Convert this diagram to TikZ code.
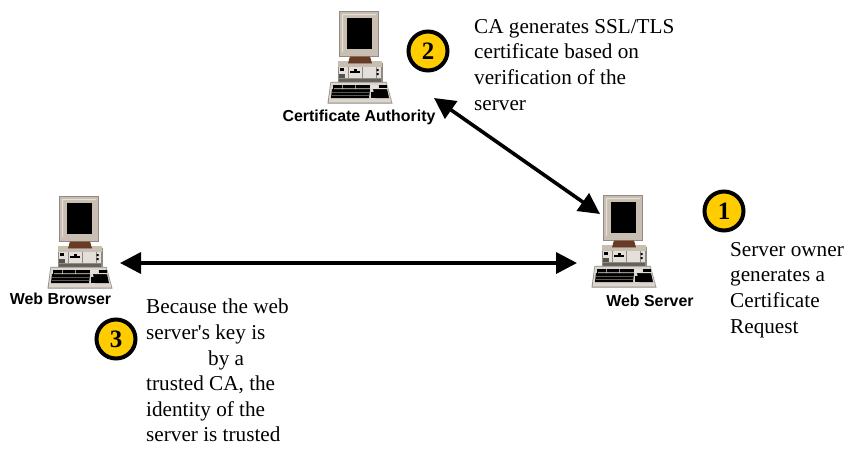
\documentclass[tikz,border=0pt]{standalone}
\usepackage{fontspec}
\setmainfont{Liberation Serif}
\newfontfamily\notefont{Liberation Serif}
\newfontfamily\labelfont{Liberation Sans}
\usetikzlibrary{arrows.meta}
\definecolor{beige}{HTML}{C9BEB2}
\definecolor{edgegray}{HTML}{8F8A84}
\definecolor{panel}{HTML}{E4DFD8}
\definecolor{brownneck}{HTML}{6B3A22}
\definecolor{gold}{HTML}{FFCC00}
\tikzset{
  x=1pt,y=-1pt,
  hitbox/.style={inner sep=0,outer sep=0,minimum width=64pt,minimum height=92pt,anchor=north west},
  caption/.style={font=\labelfont\bfseries\fontsize{15.9}{18}\selectfont,inner sep=0,text=black},
  note/.style={font=\notefont\fontsize{21.2}{25.6}\selectfont,align=left,anchor=north west,inner sep=0,text=black},
  badge/.style={circle,draw=black,line width=4pt,fill=gold,minimum size=39pt,inner sep=0,
     font=\bfseries\fontsize{25}{25}\selectfont,text=black},
  bothlink/.style={line width=3.6pt,{Triangle[length=21pt,width=21pt]}-{Triangle[length=21pt,width=21pt]},black},
  computer/.pic={
    % monitor
    \fill[edgegray] (-0.8,-0.8) rectangle (38.8,44.8);
    \fill[beige] (0,0) rectangle (38,44);
    \fill[panel] (2,2) rectangle (36,3) (2,2) rectangle (3,40);
    \fill[black] (7,6) rectangle (32,37);
    % neck
    \fill[brownneck] (10,44.5) -- (30,44.5) -- (32,51) -- (8,51) -- cycle;
    % case
    \fill[edgegray] (-2.5,51) -- (42.5,51) -- (42.5,71) -- (-2.5,71) -- cycle;
    \fill[beige] (-2,49) -- (8,49) -- (8,52) -- (32,52) -- (32,49) -- (42,49) -- (42,55) -- (-2,55) -- cycle;
    \fill[panel] (-1,55) rectangle (41,66);
    \fill[black] (0,56) rectangle (4,59);
    \fill[black] (10,59) rectangle (20,61);
    \fill[black] (14,57) rectangle (17,59);
    \draw[edgegray,line width=.6pt] (8,55) -- (8,66) (22,55) -- (22,66) (36,55) -- (36,66);
    \fill[black] (36.5,57) rectangle (38.5,59) (36.5,61) rectangle (38.5,63);
    \fill[edgegray!60!black] (-1,62) rectangle (5,66);
    \fill[edgegray!70!black] (-1,67) rectangle (41,70.5);
    % keyboard
    \fill[edgegray] (-9.5,69.8) -- (46.5,69.8) -- (52.5,91.5) -- (-12.5,91.5) -- cycle;
    \fill[panel!70!beige] (-9,70.5) -- (46,70.5) -- (51.5,90.5) -- (-11.5,90.5) -- cycle;
    \fill[black] (-7,73) -- (30,73) -- (30,77) -- (-7,77) -- cycle;
    \fill[black] (-8,77) -- (30,77) -- (29,86) -- (-9,86) -- cycle;
    \fill[black] (33,77) -- (47,77) -- (49,86) -- (35,86) -- cycle;
    \fill[black] (31,80) -- (36,80) -- (36,86) -- (31,86) -- cycle;
    \fill[panel] (-6,76.3) rectangle (48,77) (2,73) rectangle (2.7,76) (15,73) rectangle (15.7,76) (30,73) rectangle (38,76);
    \fill[black] (39,73) rectangle (47,75.5);
    \fill[edgegray] (-8,80) rectangle (29,80.5) (-8,83) rectangle (29,83.5);
  }
}
\begin{document}
\begin{tikzpicture}
\useasboundingbox (0,0) rectangle (855,453);
\fill[white] (0,0) rectangle (855,453);

\pic at (340,12) {computer};
\pic at (60,197) {computer};
\pic at (604,196) {computer};

\node[hitbox] (ca) at (329,12) {};
\node[hitbox] (browser) at (49,197) {};
\node[hitbox] (server) at (593,196) {};

\node[caption] (calabel) at (359,117) {Certificate Authority};
\node[caption] (browserlabel) at (60.5,298.5) {Web Browser};
\node[caption] (serverlabel) at (650,300.5) {Web Server};

\node[badge] (b2) at (428,51) {2};
\node[badge] (b1) at (724,211) {1};
\node[badge] (b3) at (116,339) {3};

\node[note] (n2) at (474,19) {CA generates SSL/TLS\\certificate based on\\verification of the\\server};
\node[note] (n1) at (730,242) {Server owner\\generates a\\Certificate\\Request};
\node[note] (n3) at (146,299) {Because the web\\server's key is\\\hspace*{62pt}by a\\trusted CA, the\\identity of the\\server is trusted};

\draw[bothlink] ([xshift=41pt,yshift=6pt]ca.south east) -- ([xshift=7pt,yshift=-18pt]server.north west);
\draw[bothlink] ([xshift=7pt,yshift=-66pt]browser.north east) -- ([xshift=-16pt,yshift=-67pt]server.north west);
\end{tikzpicture}
\end{document}
